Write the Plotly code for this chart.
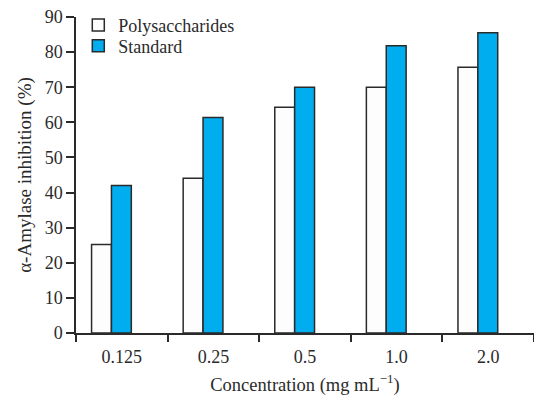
import plotly.graph_objects as go

categories = ["0.125", "0.25", "0.5", "1.0", "2.0"]
polysaccharides = [25.2, 44.1, 64.3, 70.0, 75.7]
standard = [42.0, 61.4, 70.0, 81.8, 85.5]

FONT = "Liberation Serif, Times New Roman, serif"
EDGE = "#2a2a2a"
TXT = "#2a2a2a"

fig = go.Figure()
fig.add_trace(go.Bar(
    x=categories, y=polysaccharides, name="Polysaccharides",
    marker=dict(color="#fdfdfd", line=dict(color=EDGE, width=1.5)),
    width=0.217, offset=-0.33, legend="legend",
))
fig.add_trace(go.Bar(
    x=categories, y=standard, name="Standard",
    marker=dict(color="#00AEEF", line=dict(color=EDGE, width=1.5)),
    width=0.217, offset=-0.113, legend="legend2",
))

leg_common = dict(xanchor="left", yanchor="top", bgcolor="rgba(0,0,0,0)",
                  font=dict(size=18), itemwidth=30)

fig.update_layout(
    width=534, height=396,
    margin=dict(l=76, r=0, t=17, b=63, autoexpand=False),
    paper_bgcolor="white", plot_bgcolor="white",
    font=dict(family=FONT, size=18, color=TXT),
    showlegend=True,
    legend=dict(x=0.005, y=1.032, **leg_common),
    legend2=dict(x=0.005, y=0.967, **leg_common),
    xaxis=dict(
        type="category", range=[-0.5, 4.5],
        showline=True, linecolor=EDGE, linewidth=1.5,
        ticks="outside", tickson="boundaries", ticklen=7, tickwidth=1.5, tickcolor=EDGE,
        showgrid=False, zeroline=False, automargin=False,
        tickfont=dict(size=18), ticklabelstandoff=7,
        title=dict(text="Concentration (mg mL<sup>\u22121</sup>)", standoff=16, font=dict(size=18.5)),
    ),
    yaxis=dict(
        range=[0, 90], tickvals=list(range(0, 91, 10)),
        showline=True, linecolor=EDGE, linewidth=1.5,
        ticks="outside", ticklen=8, tickwidth=1.5, tickcolor=EDGE,
        showgrid=False, zeroline=False, automargin=False,
        tickfont=dict(size=18),
        title=dict(text="\u03b1-Amylase inhibition (%)", standoff=8, font=dict(size=19)),
    ),
)

fig.write_html("out.html", config={"displayModeBar": False},
               post_script="document.body.style.margin='0';")
